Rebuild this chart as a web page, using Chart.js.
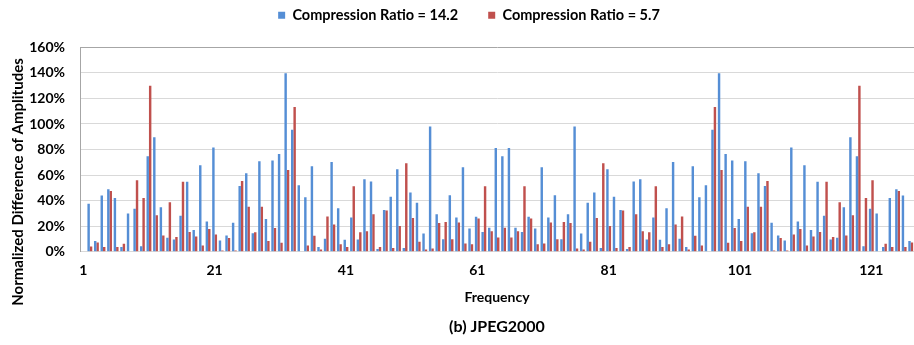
<!DOCTYPE html>
<html>
<head>
<meta charset="utf-8">
<script src="https://cdn.jsdelivr.net/npm/chart.js"></script>
<style>
  html, body { margin: 0; padding: 0; background: #fff; }
  #wrap { width: 914px; height: 345px; }
</style>
</head>
<body>
<div id="wrap"><canvas id="grafico" width="914" height="345"></canvas></div>
<script>
// datos (bins 0..126, en %)
const serie1 = 'Compression Ratio = 14.2';
const serie2 = 'Compression Ratio = 5.7';

const ratio142 = [0,
  37.6, 8.4, 44, 49, 42, 3.7, 30, 33.7, 4.4, 74.8,
  89.7, 34.8, 11, 9.7, 28.2, 54.9, 17, 67.7, 23.8, 81.6,
  8.9, 12.8, 22.7, 51.5, 61.4, 14.6, 70.8, 25.6, 71.4, 76.6,
  139.6, 95.4, 52, 42.6, 67, 3.7, 10.2, 70.3, 34, 9.4,
  26.9, 9.7, 56.7, 55, 2.1, 32.7, 43, 64.6, 2.9, 46.3,
  38.4, 14.4, 98, 29.3, 9.9, 44.2, 26.9, 66.1, 18.3, 27.5,
  15.4, 18.8, 81.3, 74.8,
  81.3, 18.8, 15.4, 27.5, 18.3, 66.1, 26.9, 44.2, 9.9, 29.3,
  98, 14.4, 38.4, 46.3, 2.9, 64.6, 43, 32.7, 2.1, 55,
  56.7, 9.7, 26.9, 9.4, 34, 70.3, 10.2, 3.7, 67, 42.6,
  52, 95.4, 139.6, 76.6, 71.4, 25.6, 70.8, 14.6, 61.4, 51.5,
  22.7, 12.8, 8.9, 81.6, 23.8, 67.7, 17, 54.9, 28.2, 9.7,
  11, 34.8, 89.7, 74.8, 4.4, 33.7, 30, 3.7, 42, 49,
  44, 8.4];

const ratio57 = [0,
  4.2, 7.3, 3.7, 47.6, 3.7, 6.3, 0.5, 56, 42, 130,
  28.5, 12.8, 38.7, 11.5, 54.9, 15.4, 12, 5, 17.8, 13.6,
  1, 10.7, 1, 55.4, 35.3, 15.2, 35.3, 8.4, 18.6, 7,
  64, 113.2, 0.5, 5, 12.5, 1.8, 27.7, 21.4, 6, 3.7,
  51.2, 15.2, 16, 29.3, 3.7, 32.4, 2.9, 20.1, 69.3, 26.4,
  7.8, 1.8, 2.6, 22.5, 23.3, 9.9, 23, 6.5, 6, 26.1,
  51.2, 16, 11.2, 18.8,
  11.2, 16, 51.2, 26.1, 6, 6.5, 23, 9.9, 23.3, 22.5,
  2.6, 1.8, 7.8, 26.4, 69.3, 20.1, 2.9, 32.4, 3.7, 29.3,
  16, 15.2, 51.2, 3.7, 6, 21.4, 27.7, 1.8, 12.5, 5,
  0.5, 113.2, 64, 7, 18.6, 8.4, 35.3, 15.2, 35.3, 55.4,
  1, 10.7, 1, 13.6, 17.8, 5, 12, 15.4, 54.9, 11.5,
  38.7, 12.8, 28.5, 130, 42, 56, 0.5, 6.3, 3.7, 47.6,
  3.7, 7.3];

const frecuencias = ratio142.map((v, i) => String(i + 1));
const xTicks = ['1', '21', '41', '61', '81', '101', '121'];
const yTicks = [0, 20, 40, 60, 80, 100, 120, 140, 160];
const yTitulo = 'Normalized Difference of Amplitudes';

// titulo del eje y (va desplazado hacia abajo como en la figura)
// y la leyenda se sube un poco para dejar el hueco sobre el grafico
const ajustes = {
  id: 'ajustes',
  afterLayout(chart) {
    chart.legend.top -= 22;
    chart.legend.bottom -= 22;
  },
  afterDraw(chart) {
    const ctx = chart.ctx;
    ctx.save();
    ctx.translate(18, 182);
    ctx.rotate(-Math.PI / 2);
    ctx.font = 'bold 15px Lato';
    ctx.fillStyle = '#000';
    ctx.textAlign = 'center';
    ctx.textBaseline = 'middle';
    ctx.fillText(yTitulo, 0, 0);
    ctx.restore();
  }
};

const grafico = document.getElementById('grafico');
new Chart(grafico, {
  type: 'bar',
  data: {
    labels: frecuencias,
    datasets: [{
      label: serie1,
      data: ratio142,
      backgroundColor: '#558ED5',
      categoryPercentage: 0.74,
      barPercentage: 1.0
    }, {
      label: serie2,
      data: ratio57,
      backgroundColor: '#C0504D',
      categoryPercentage: 0.74,
      barPercentage: 1.0
    }]
  },
  options: {
    responsive: false,
    animation: false,
    devicePixelRatio: 1,
    layout: {
      padding: { left: 24, right: 0, top: 0, bottom: 0 }
    },
    plugins: {
      legend: {
        position: 'top',
        maxHeight: 47.3,
        labels: {
          boxWidth: 7,
          boxHeight: 7,
          padding: 30,
          color: '#000',
          font: { family: 'Lato', size: 14.5, weight: 'bold' }
        }
      },
      title: {
        display: true,
        position: 'bottom',
        fullSize: false,
        text: '(b) JPEG2000',
        color: '#000',
        font: { family: 'Lato', size: 16, weight: 'bold' },
        padding: { top: 0, bottom: 8.4 }
      },
      tooltip: { enabled: false }
    },
    scales: {
      x: {
        afterFit: function (scale) { scale.paddingRight = 0; },
        grid: { display: false, drawTicks: false },
        border: { color: '#D9D9D9' },
        ticks: {
          autoSkip: false,
          maxRotation: 0,
          minRotation: 0,
          padding: 10,
          color: '#000',
          font: { family: 'Lato', size: 14, weight: 'bold' },
          callback: function (val, idx) {
            const t = frecuencias[idx];
            return xTicks.includes(t) ? t : '';
          }
        },
        title: {
          display: true,
          text: 'Frequency',
          color: '#000',
          font: { family: 'Lato', size: 14, weight: 'bold' },
          padding: { top: 0, bottom: 12 }
        }
      },
      y: {
        min: yTicks[0],
        max: yTicks[yTicks.length - 1],
        afterFit: function (scale) { scale.width = 56; },
        grid: {
          drawTicks: false,
          color: ctx => (ctx.tick && ctx.tick.value === 160) ? '#A6A6A6' : '#D9D9D9'
        },
        border: { color: '#A6A6A6' },
        ticks: {
          stepSize: 20,
          padding: 15,
          color: '#000',
          font: { family: 'Lato', size: 14, weight: 'bold' },
          callback: v => v + '%'
        }
      }
    }
  },
  plugins: [ajustes]
});
</script>
</body>
</html>
